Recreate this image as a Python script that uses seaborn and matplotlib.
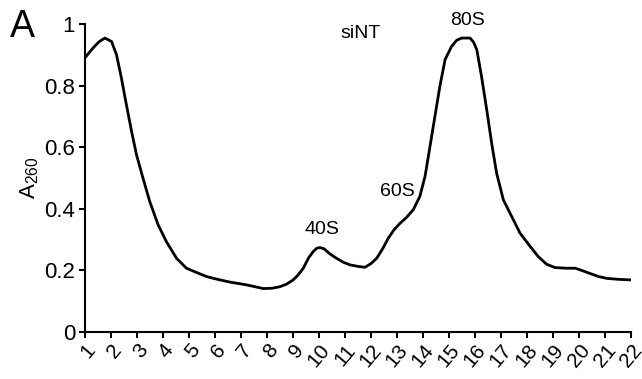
import numpy as np
import matplotlib
matplotlib.use("Agg")
import matplotlib.pyplot as plt
import seaborn as sns

# fraction number vs A260
fraction = [1.00, 1.32, 1.55, 1.77, 2.03, 2.22, 2.41, 2.60, 2.80, 2.99, 3.24,
            3.50, 3.82, 4.14, 4.53, 4.91, 5.36, 5.68, 6.10, 6.58, 7.22, 7.86,
            8.20, 8.50, 8.75, 9.01, 9.20, 9.40, 9.60, 9.78, 9.92, 10.04, 10.20,
            10.40, 10.68, 10.95, 11.19, 11.50, 11.77, 12.00, 12.22, 12.45, 12.67,
            12.90, 13.12, 13.37, 13.63, 13.88, 14.08, 14.27, 14.46, 14.65, 14.85,
            15.10, 15.30, 15.49, 15.81, 15.95, 16.07, 16.25, 16.45, 16.64, 16.83,
            17.09, 17.41, 17.73, 18.10, 18.43, 18.75, 19.08, 19.50, 19.85, 20.10,
            20.42, 20.75, 21.07, 21.50, 22.00]
a260 = [0.889, 0.922, 0.942, 0.954, 0.943, 0.900, 0.824, 0.738, 0.651, 0.575,
        0.499, 0.423, 0.348, 0.293, 0.239, 0.207, 0.191, 0.180, 0.171, 0.162,
        0.153, 0.141, 0.142, 0.147, 0.155, 0.169, 0.185, 0.207, 0.240, 0.261,
        0.272, 0.274, 0.270, 0.255, 0.239, 0.226, 0.218, 0.213, 0.210, 0.222,
        0.239, 0.270, 0.305, 0.333, 0.353, 0.372, 0.397, 0.440, 0.505, 0.602,
        0.700, 0.797, 0.884, 0.927, 0.947, 0.954, 0.954, 0.940, 0.916, 0.830,
        0.722, 0.613, 0.516, 0.429, 0.375, 0.321, 0.280, 0.245, 0.220, 0.209,
        0.207, 0.207, 0.200, 0.190, 0.180, 0.174, 0.171, 0.169]

peak_labels = ["siNT", "80S", "60S", "40S"]
peak_x = [11.6, 15.7, 13.0, 10.1]
peak_y = [0.968, 1.01, 0.455, 0.332]

xticks = list(range(1, 23))
yticks = [0, 0.2, 0.4, 0.6, 0.8, 1]
yticklabels = ["0", "0.2", "0.4", "0.6", "0.8", "1"]

sns.set_style("ticks")
plt.rcParams["font.family"] = ["Liberation Sans", "DejaVu Sans"]
plt.rcParams["mathtext.default"] = "regular"
plt.rcParams["text.color"] = "black"
plt.rcParams["axes.labelcolor"] = "black"
plt.rcParams["xtick.color"] = "black"
plt.rcParams["ytick.color"] = "black"

fig = plt.figure(figsize=(6.42, 3.79), dpi=100)
ax = fig.add_axes([0.132, 0.124, 0.851, 0.813])

sns.lineplot(x=fraction, y=a260, ax=ax, color="black", linewidth=2.0,
             estimator=None, solid_joinstyle="round", solid_capstyle="round")

ax.set_xlim(1, 22)
ax.set_ylim(0, 1)
ax.set_xticks(xticks)
ax.set_xticklabels([str(t) for t in xticks], rotation=50, ha="right",
                   rotation_mode="anchor", fontsize=15)
ax.set_yticks(yticks)
ax.set_yticklabels(yticklabels, fontsize=16)
ax.tick_params(direction="out", length=4, width=1.5, pad=2)
ax.tick_params(axis="y", pad=3)
ax.set_ylabel("A$_{260}$", fontsize=16, labelpad=2)

for side in ["top", "right"]:
    ax.spines[side].set_visible(False)
for side in ["left", "bottom"]:
    ax.spines[side].set_linewidth(1.5)
    ax.spines[side].set_color("black")

for lab, px, py in zip(peak_labels, peak_x, peak_y):
    ax.text(px, py, lab, ha="center", va="center", fontsize=14, clip_on=False)

fig.text(0.035, 0.93, "A", fontsize=27, ha="center", va="center")

fig.savefig("out.png", dpi=100)
